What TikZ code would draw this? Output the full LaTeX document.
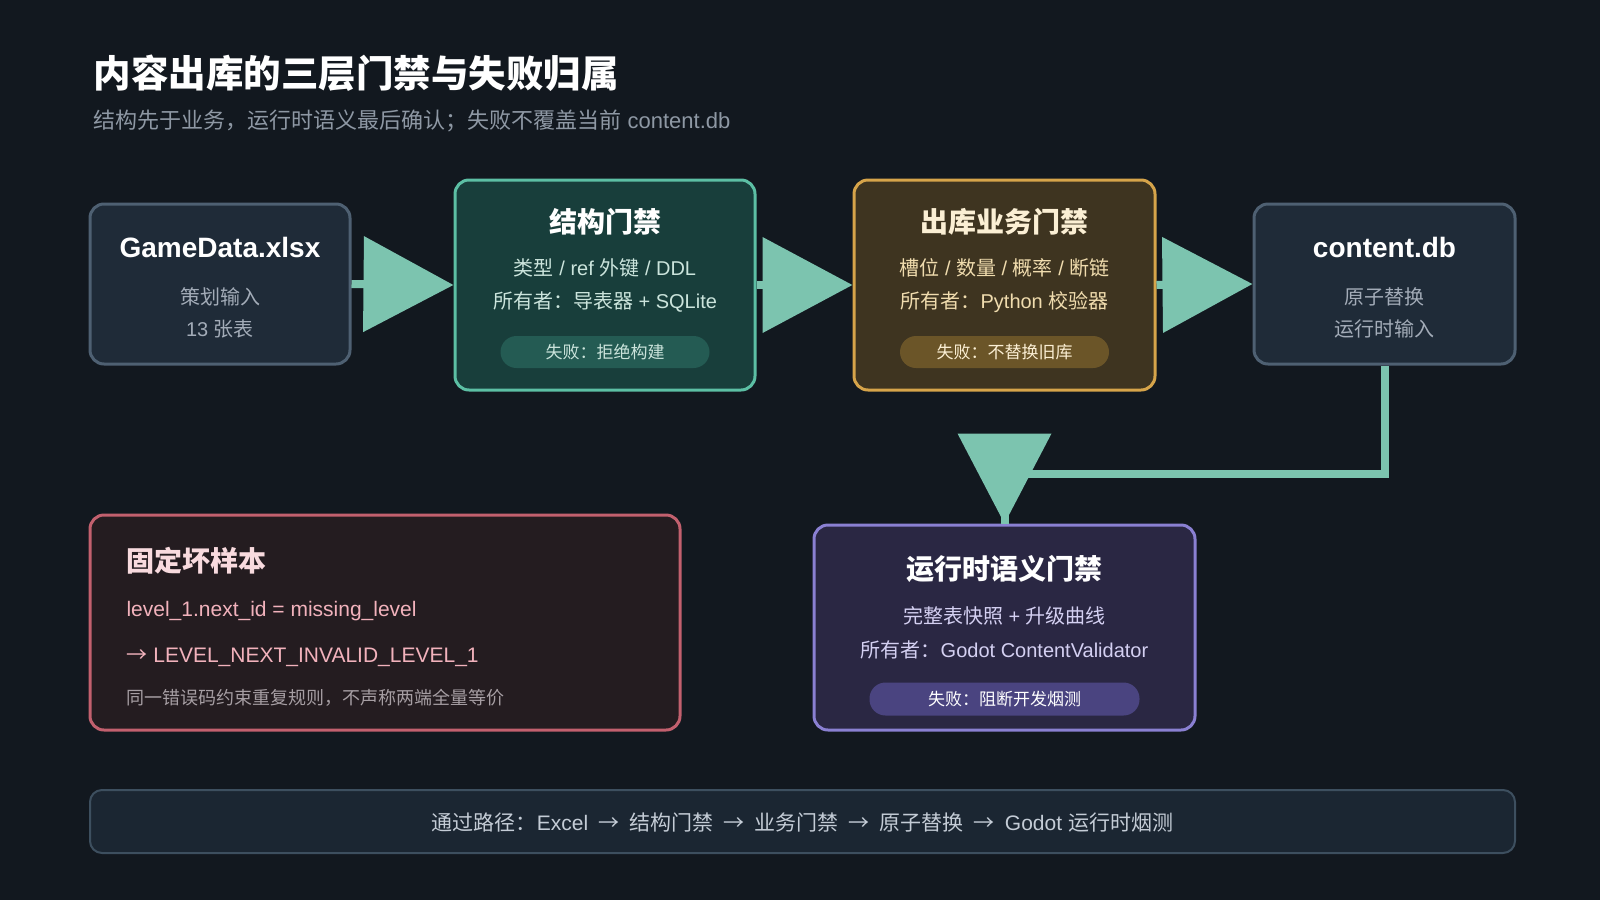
\documentclass[tikz,border=0pt]{standalone}
\usepackage{fontspec}
\setmainfont{Noto Sans CJK SC}
\newfontfamily\lat{Liberation Sans}
\usetikzlibrary{arrows.meta}
\definecolor{bg}{HTML}{12181F}
\definecolor{grayfill}{HTML}{1F2B38}
\definecolor{grayline}{HTML}{4E6072}
\definecolor{graytext}{HTML}{A3ACB8}
\definecolor{tealfill}{HTML}{183E3B}
\definecolor{tealline}{HTML}{5CBFA4}
\definecolor{tealpill}{HTML}{245B53}
\definecolor{tealtext}{HTML}{CBE4DC}
\definecolor{arrowc}{HTML}{7CC4AF}
\definecolor{goldfill}{HTML}{3E3420}
\definecolor{goldline}{HTML}{D6A44A}
\definecolor{goldpill}{HTML}{6B5528}
\definecolor{goldtext}{HTML}{F0DCAE}
\definecolor{goldtitle}{HTML}{FBEFD4}
\definecolor{purpfill}{HTML}{2A2743}
\definecolor{purpline}{HTML}{8A80D2}
\definecolor{purppill}{HTML}{4A4480}
\definecolor{purptext}{HTML}{D4D0F2}
\definecolor{redfill}{HTML}{241C20}
\definecolor{redline}{HTML}{C2606E}
\definecolor{redtitle}{HTML}{F8DADE}
\definecolor{redcode}{HTML}{F2B2BC}
\definecolor{rednote}{HTML}{A69EA3}
\definecolor{barfill}{HTML}{1B2632}
\definecolor{barline}{HTML}{3D4F5F}
\definecolor{bartext}{HTML}{C4CCD6}
\definecolor{subt}{HTML}{8E98A4}
\newcommand{\latx}[1]{{\lat #1}}
\newcommand{\lsp}{{\lat\ }}
\newcommand{\arw}{\hspace{0.48em}→\hspace{0.48em}}
\tikzset{
  box/.style={draw, line width=3pt, rounded corners=14pt, inner sep=0pt},
  pill/.style={rounded corners=16pt, minimum width=209pt, minimum height=32pt, inner sep=0pt, font=\fontsize{17}{19}\selectfont},
  ttl/.style={font=\fontsize{28}{31}\selectfont\bfseries},
  ltl/.style={font=\fontsize{28}{31}\selectfont\lat\bfseries},
  body/.style={font=\fontsize{20}{23}\selectfont},
  flow/.style={draw=arrowc, line width=8pt},
  bigtip/.style={-{Triangle[length=90pt,width=94pt]}}
}
\begin{document}
\begin{tikzpicture}[x=1pt,y=-1pt]
\useasboundingbox (0,0) rectangle (1600,900);
\fill[bg] (0,0) rectangle (1600,900);

% title
\node[anchor=west, text=white, font=\fontsize{37.5}{40}\selectfont\bfseries] (title) at (90,73) {内容出库的三层门禁与失败归属};
\node[anchor=west, text=subt, font=\fontsize{22}{25}\selectfont] (subtitle) at (90,121) {结构先于业务，运行时语义最后确认；失败不覆盖当前\lsp\latx{content.db}};

% boxes
\node[box, draw=grayline, fill=grayfill, minimum width=260pt, minimum height=160pt] (xlsx) at (220,284) {};
\node[box, draw=tealline, fill=tealfill, minimum width=300pt, minimum height=210pt] (struct) at (605,285) {};
\node[box, draw=goldline, fill=goldfill, minimum width=301pt, minimum height=210pt] (biz) at (1004.5,285) {};
\node[box, draw=grayline, fill=grayfill, minimum width=261pt, minimum height=160pt] (db) at (1384.5,284) {};
\node[box, draw=purpline, fill=purpfill, minimum width=381pt, minimum height=205pt] (rt) at (1004.5,627.5) {};
\node[box, draw=redline, fill=redfill, minimum width=590pt, minimum height=215pt] (bad) at (385,622.5) {};
\node[box, draw=barline, fill=barfill, line width=2pt, rounded corners=12pt, minimum width=1425pt, minimum height=63pt] (bar) at (802.5,821.5) {};

% arrows
\draw[flow, bigtip] (xlsx.east) -- (struct.west);
\draw[flow, bigtip] (struct.east) -- (biz.west);
\draw[flow, bigtip] (biz.east) -- (db.west);
\coordinate (c1) at (db.south |- 0,474);
\coordinate (c2) at (rt.north |- 0,474);
\draw[flow, line join=miter] (db.south) -- (c1) -- (c2) -- (rt.north);
\fill[arrowc] (rt.north) -- ++(-47,-90) -- ++(94,0) -- cycle;

% xlsx
\node[ltl, text=white] (xlsxT) at (220,247) {GameData.xlsx};
\node[body, text=graytext] (xlsx1) at (220,297) {策划输入};
\node[body, text=graytext] (xlsx2) at (220,329) {\latx{13}\lsp 张表};

% struct
\node[ttl, text=white] (structT) at (605,222) {结构门禁};
\node[body, text=tealtext] (struct1) at (605,268) {类型\latx{\ /\ ref\ }外键\latx{\ /\ DDL}};
\node[body, text=tealtext] (struct2) at (605,302) {所有者：导表器\latx{\ +\ SQLite}};
\node[pill, fill=tealpill, text=tealtext] (structP) at (605,352) {失败：拒绝构建};

% biz
\node[ttl, text=goldtitle] (bizT) at (1004.5,222) {出库业务门禁};
\node[body, text=goldtext] (biz1) at (1004.5,268) {槽位\latx{\ /\ }数量\latx{\ /\ }概率\latx{\ /\ }断链};
\node[body, text=goldtext] (biz2) at (1004.5,302) {所有者：\latx{Python\ }校验器};
\node[pill, fill=goldpill, text=goldtitle] (bizP) at (1004.5,352) {失败：不替换旧库};

% db
\node[ltl, text=white] (dbT) at (1384.5,247) {content.db};
\node[body, text=graytext] (db1) at (1384.5,297) {原子替换};
\node[body, text=graytext] (db2) at (1384.5,329) {运行时输入};

% runtime
\node[ttl, text=white] (rtT) at (1004.5,569) {运行时语义门禁};
\node[body, text=purptext] (rt1) at (1004.5,616) {完整表快照\latx{\ +\ }升级曲线};
\node[body, text=purptext] (rt2) at (1004.5,650) {所有者：\latx{Godot ContentValidator}};
\node[pill, fill=purppill, text=white, minimum width=270pt, minimum height=33pt] (rtP) at (1004.5,699) {失败：阻断开发烟测};

% bad sample
\node[anchor=west, ttl, text=redtitle] (badT) at (123,561) {固定坏样本};
\node[anchor=west, text=redcode, font=\fontsize{21}{24}\selectfont] (bad1) at (123,611) {\latx{level\_1.next\_id = missing\_level}};
\node[anchor=west, text=redcode, font=\fontsize{21}{24}\selectfont] (bad2) at (123,657) {→\latx{\ LEVEL\_NEXT\_INVALID\_LEVEL\_1}};
\node[anchor=west, text=rednote, font=\fontsize{18}{20}\selectfont] (bad3) at (123,698) {同一错误码约束重复规则，不声称两端全量等价};

% bar
\node[text=bartext, font=\fontsize{21}{24}\selectfont] (barT) at ([yshift=-1pt]bar.center) {通过路径：\latx{Excel}\arw 结构门禁\arw 业务门禁\arw 原子替换\arw\latx{Godot\ }运行时烟测};
\end{tikzpicture}
\end{document}
